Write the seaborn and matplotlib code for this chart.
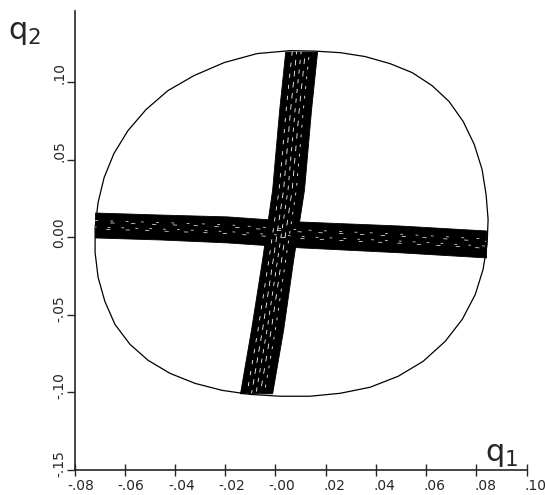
import numpy as np
import pandas as pd
import matplotlib.pyplot as plt
import matplotlib.transforms as mtransforms
import seaborn as sns

rim_q1 = [0.0059, 0.0158, 0.0258, 0.0357, 0.0457, 0.0545, 0.0624, 0.0692,
          0.0748, 0.0792, 0.0823, 0.0839, 0.0847, 0.0843, 0.0827, 0.0796,
          0.0744, 0.0676, 0.0588, 0.0489, 0.0377, 0.0258, 0.0138, 0.0019,
          -0.0101, -0.0212, -0.0320, -0.0420, -0.0507, -0.0579, -0.0639, -0.0679,
          -0.0706, -0.0718, -0.0718, -0.0706, -0.0682, -0.0643, -0.0587, -0.0515,
          -0.0428, -0.0324, -0.0204, -0.0073]
rim_q2 = [0.1204, 0.1201, 0.1191, 0.1166, 0.1120, 0.1062, 0.0978, 0.0875,
          0.0746, 0.0598, 0.0437, 0.0275, 0.0114, -0.0047, -0.0208, -0.0370,
          -0.0531, -0.0673, -0.0802, -0.0898, -0.0969, -0.1008, -0.1027, -0.1027,
          -0.1015, -0.0989, -0.0944, -0.0879, -0.0795, -0.0692, -0.0563, -0.0415,
          -0.0260, -0.0099, 0.0063, 0.0224, 0.0385, 0.0540, 0.0688, 0.0824,
          0.0946, 0.1043, 0.1127, 0.1185]

# nearly horizontal band of orbits
hband_q1 = [-0.0718, -0.0459, -0.0192, 0.0098, 0.0497, 0.0839]
hband_top = [0.0159, 0.0146, 0.0134, 0.0101, 0.0075, 0.0043]
hband_bot = [-0.0002, -0.0015, -0.0034, -0.0066, -0.0098, -0.0131]

# nearly vertical band of orbits
vband_q2 = [0.1198, 0.0824, 0.0308, -0.0143, -0.0595, -0.1008]
vband_left = [0.0039, 0.0015, -0.0013, -0.0053, -0.0097, -0.0141]
vband_right = [0.0166, 0.0142, 0.0114, 0.0071, 0.0031, -0.0013]

# white gaps left between the orbits (fraction across each band)
hband_gaps = [0.32, 0.40, 0.58, 0.66]
vband_gaps = [0.22, 0.36, 0.50, 0.63, 0.76]

xticks = [-0.08, -0.06, -0.04, -0.02, 0.00, 0.02, 0.04, 0.06, 0.08, 0.10]
xtick_labels = ['-.08', '-.06', '-.04', '-.02', '-.00', '.02', '.04', '.06', '.08', '.10']
yticks = [-0.15, -0.10, -0.05, 0.00, 0.05, 0.10]
ytick_labels = ['-.15', '-.10', '-.05', '0.00', '.05', '.10']

# %%
sns.set_style("ticks")
plt.rcParams['font.family'] = ['DejaVu Sans']
plt.rcParams['lines.scale_dashes'] = False

fig = plt.figure(figsize=(5.45, 4.95), dpi=100)
ax = fig.add_axes([0.1367, 0.0515, 0.8294, 0.9263])

rim = pd.DataFrame({'q1': rim_q1 + rim_q1[:1], 'q2': rim_q2 + rim_q2[:1]})
sns.lineplot(data=rim, x='q1', y='q2', sort=False, estimator=None,
             color='black', lw=0.9, ax=ax)

# bands
top, bot = np.array(hband_top), np.array(hband_bot)
ax.fill_between(hband_q1, top, bot, color='black', lw=0.6, edgecolor='black')
h_dashes = [(0, (2, 9)), (4, (3, 12)), (1, (2, 8)), (6, (3, 11))]
for f, ls in zip(hband_gaps, h_dashes):
    ax.plot(hband_q1, top + f * (bot - top), color='white', lw=0.5, ls=ls)

left, right = np.array(vband_left), np.array(vband_right)
ax.fill_betweenx(vband_q2, left, right, color='black', lw=0.6, edgecolor='black')
v_dashes = [(0, (3, 5)), (2, (4, 4)), (1, (3, 4)), (4, (4, 5)), (3, (2, 5))]
for f, ls in zip(vband_gaps, v_dashes):
    ax.plot(left + f * (right - left), vband_q2, color='white', lw=0.6, ls=ls)

ax.set_xlim(-0.08, 0.10)
ax.set_ylim(-0.15, 0.146)
ax.set_xlabel('')
ax.set_ylabel('')
sns.despine(ax=ax)
for s in ['left', 'bottom']:
    ax.spines[s].set_linewidth(1.2)

ax.set_xticks(xticks, xtick_labels)
ax.set_yticks(yticks, ytick_labels)
ax.tick_params(axis='x', direction='inout', length=8, width=1, pad=3, labelsize=10)
ax.tick_params(axis='y', direction='out', length=6, width=1, pad=0, labelsize=10,
               labelrotation=90)

# plotter style: the decimal point sits on the tick
renderer = fig.canvas.get_renderer()


def point_offset(s, prop):
    head = s[:s.index('.') + 1]
    w_head = renderer.get_text_width_height_descent(head, prop, ismath=False)[0]
    w_dot = renderer.get_text_width_height_descent('.', prop, ismath=False)[0]
    return (w_head - w_dot / 2) / fig.dpi


for lab in ax.get_xticklabels():
    dx = point_offset(lab.get_text(), lab.get_fontproperties())
    lab.set_ha('left')
    lab.set_transform(lab.get_transform() +
                      mtransforms.ScaledTranslation(-dx, 0, fig.dpi_scale_trans))

for lab in ax.get_yticklabels():
    dy = point_offset(lab.get_text(), lab.get_fontproperties())
    lab.set_va('bottom')
    lab.set_transform(lab.get_transform() +
                      mtransforms.ScaledTranslation(0, -dy, fig.dpi_scale_trans))

fig.text(8 / 545, 1 - 39 / 495, r'$\mathregular{q_2}$', fontsize=22,
         ha='left', va='baseline')
fig.text(485 / 545, 1 - 461 / 495, r'$\mathregular{q_1}$', fontsize=22,
         ha='left', va='baseline')

fig.savefig('out.png', dpi=100)
